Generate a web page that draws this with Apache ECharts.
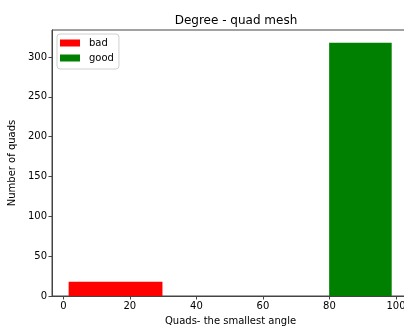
<!DOCTYPE html>
<html><head><meta charset="utf-8">
<script src="https://cdn.jsdelivr.net/npm/echarts@6/dist/echarts.min.js"></script>
<style>html,body{margin:0;padding:0;background:#fff}#c{width:404px;height:326px}</style>
</head><body><div id="c"></div>
<script>
var seriesNames = ['bad', 'good'];
var binStart = [1.6, 79.9];
var binEnd = [29.8, 98.7];
var counts = [18, 318];
var colors = ['#ff0000', '#008000'];
var xTicks = [0, 20, 40, 60, 80, 100];
var yTicks = [0, 50, 100, 150, 200, 250, 300];

var F = 'DejaVu Sans';
var chart = echarts.init(document.getElementById('c'));
function mkSeries(i) {
  return {
    type: 'custom', name: seriesNames[i],
    itemStyle: { color: colors[i] },
    data: [[binStart[i], binEnd[i], counts[i]]],
    encode: { x: [0, 1], y: 2 },
    renderItem: function (params, api) {
      var p0 = api.coord([api.value(0), 0]);
      var p1 = api.coord([api.value(1), api.value(2)]);
      return { type: 'rect', shape: { x: p0[0], y: p1[1], width: p1[0] - p0[0], height: p0[1] - p1[1] },
        style: { fill: colors[i] } };
    }
  };
}
chart.setOption({
  animation: false,
  textStyle: { fontFamily: F },
  title: { text: 'Degree - quad mesh', left: 231, top: 10, textAlign: 'center',
    textStyle: { fontFamily: F, fontSize: 12, fontWeight: 'normal', color: '#000' } },
  legend: { left: 57, top: 34, orient: 'vertical', itemWidth: 20, itemHeight: 7, itemGap: 5,
    padding: [4, 5, 6, 3], backgroundColor: '#fff', borderColor: '#d0d0d0', borderWidth: 1, borderRadius: 3,
    icon: 'rect', textStyle: { fontFamily: F, fontSize: 10, color: '#000', padding: [0, 0, 0, 4] }, data: seriesNames },
  grid: { left: 52, right: -5, top: 30, bottom: 30, outerBoundsMode: 'none', containLabel: false,
    show: true, borderColor: '#444', borderWidth: 1, backgroundColor: '#fff' },
  xAxis: { type: 'value', min: -3.4, max: 103.9,
    name: 'Quads- the smallest angle', nameLocation: 'middle', nameGap: 20,
    nameTextStyle: { fontFamily: F, fontSize: 10, color: '#000' },
    splitLine: { show: false },
    axisLine: { show: true, onZero: false, lineStyle: { color: '#444', width: 1 } },
    axisTick: { show: true, length: 3.5, lineStyle: { color: '#444' }, customValues: xTicks },
    axisLabel: { fontFamily: F, fontSize: 10, color: '#000', margin: 5, customValues: xTicks } },
  yAxis: { type: 'value', min: 0, max: 333.9,
    name: 'Number of quads', nameLocation: 'middle', nameGap: 32, nameRotate: 90,
    nameTextStyle: { fontFamily: F, fontSize: 10, color: '#000' },
    splitLine: { show: false },
    axisLine: { show: true, onZero: false, lineStyle: { color: '#444', width: 1 } },
    axisTick: { show: true, length: 3.5, lineStyle: { color: '#444' }, customValues: yTicks },
    axisLabel: { fontFamily: F, fontSize: 10, color: '#000', margin: 5, customValues: yTicks } },
  series: [mkSeries(0), mkSeries(1)]
});
</script></body></html>
